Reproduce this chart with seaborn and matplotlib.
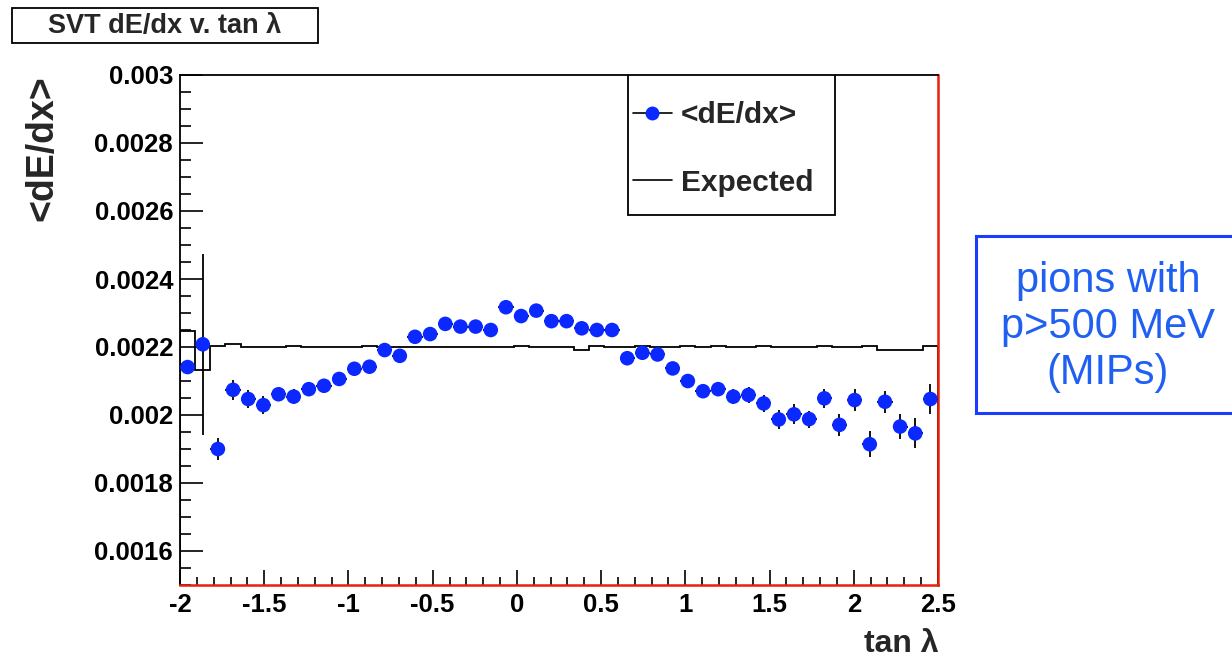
import numpy as np
import pandas as pd
import matplotlib
matplotlib.use("Agg")
import matplotlib.pyplot as plt
from matplotlib.lines import Line2D
from matplotlib.patches import Rectangle
from matplotlib.ticker import MultipleLocator
import seaborn as sns

# ---- data ---------------------------------------------------------------
bin_lo, bin_hi, n_bins = -2.0, 2.5, 50

dedx_mean = [
    0.002141, 0.002208, 0.001900, 0.002074, 0.002047, 0.002029, 0.002061, 0.002054, 0.002076, 0.002086,
    0.002106, 0.002136, 0.002142, 0.002191, 0.002174, 0.002230, 0.002238, 0.002268, 0.002260, 0.002260,
    0.002250, 0.002317, 0.002291, 0.002307, 0.002276, 0.002276, 0.002255, 0.002250, 0.002250, 0.002167,
    0.002183, 0.002178, 0.002137, 0.002100, 0.002070, 0.002076, 0.002054, 0.002059, 0.002034, 0.001987,
    0.002002, 0.001988, 0.002049, 0.001971, 0.002044, 0.001914, 0.002039, 0.001966, 0.001946, 0.002047,
]
dedx_err = [
    0.000018, 0.000267, 0.000032, 0.000029, 0.000026, 0.000026, 0.000020, 0.000023, 0.000020, 0.000018,
    0.000017, 0.000016, 0.000016, 0.000015, 0.000016, 0.000015, 0.000015, 0.000015, 0.000015, 0.000015,
    0.000015, 0.000015, 0.000015, 0.000015, 0.000015, 0.000015, 0.000015, 0.000015, 0.000015, 0.000016,
    0.000016, 0.000017, 0.000018, 0.000019, 0.000020, 0.000021, 0.000022, 0.000023, 0.000025, 0.000029,
    0.000029, 0.000025, 0.000028, 0.000032, 0.000032, 0.000038, 0.000032, 0.000038, 0.000044, 0.000044,
]
expected = [
    0.002247, 0.002132, 0.002203, 0.002209, 0.002199, 0.002199, 0.002199, 0.002203, 0.002199, 0.002199,
    0.002199, 0.002199, 0.002203, 0.002199, 0.002199, 0.002199, 0.002199, 0.002199, 0.002199, 0.002199,
    0.002199, 0.002199, 0.002203, 0.002199, 0.002199, 0.002199, 0.002191, 0.002203, 0.002199, 0.002199,
    0.002203, 0.002199, 0.002199, 0.002203, 0.002199, 0.002203, 0.002199, 0.002199, 0.002203, 0.002199,
    0.002199, 0.002199, 0.002203, 0.002199, 0.002199, 0.002203, 0.002191, 0.002191, 0.002191, 0.002203,
]

x_ticks = [-2, -1.5, -1, -0.5, 0, 0.5, 1, 1.5, 2, 2.5]
x_ticklabels = ["-2", "-1.5", "-1", "-0.5", "0", "0.5", "1", "1.5", "2", "2.5"]
y_ticks = [0.0016, 0.0018, 0.0020, 0.0022, 0.0024, 0.0026, 0.0028, 0.0030]
y_ticklabels = ["0.0016", "0.0018", "0.002", "0.0022", "0.0024", "0.0026", "0.0028", "0.003"]

title_text = "SVT dE/dx v. tan λ"
note_text = "pions with\np>500 MeV\n(MIPs)"

edges = np.linspace(bin_lo, bin_hi, n_bins + 1)
centers = 0.5 * (edges[:-1] + edges[1:])
half_width = 0.5 * (edges[1] - edges[0])
df = pd.DataFrame({"tanl": centers, "dedx": dedx_mean, "err": dedx_err})

# ---- style --------------------------------------------------------------
sns.set_style("white")
plt.rcParams["font.family"] = ["Liberation Sans", "DejaVu Sans"]
plt.rcParams["font.weight"] = "bold"

BLUE = "#0a28ff"
NOTE_BLUE = "#1f5ff2"
BOX_BLUE = "#1a3cff"

W, H = 1232, 658
fig = plt.figure(figsize=(W / 100, H / 100), dpi=100)
ax = fig.add_axes([180 / W, 1 - 585 / H, 758 / W, 510 / H])

# expected histogram as a step line
ax.stairs(expected, edges, color="black", linewidth=1.3, zorder=2)

# measured points: bin-width x bars and statistical y bars
ax.errorbar(df["tanl"], df["dedx"], xerr=half_width, yerr=df["err"],
            fmt="none", ecolor="black", elinewidth=1.3, capsize=0, zorder=3)
sns.scatterplot(data=df, x="tanl", y="dedx", ax=ax, color=BLUE, s=110,
                edgecolor="none", zorder=4, legend=False)

ax.set_xlim(bin_lo, bin_hi)
ax.set_ylim(0.0015, 0.0030)
ax.set_xlabel("")
ax.set_ylabel("")

ax.set_xticks(x_ticks)
ax.set_xticklabels(x_ticklabels)
ax.set_yticks(y_ticks)
ax.set_yticklabels(y_ticklabels)
ax.xaxis.set_minor_locator(MultipleLocator(0.1))
ax.yaxis.set_minor_locator(MultipleLocator(0.00005))
ax.tick_params(axis="both", which="both", direction="in", top=False, right=False,
               bottom=True, left=True, colors="black", labelsize=18.5, width=1.2)
ax.tick_params(axis="x", which="major", length=11, pad=6)
ax.tick_params(axis="x", which="minor", length=5.5)
ax.tick_params(axis="y", which="major", length=16.5, pad=5)
ax.tick_params(axis="y", which="minor", length=8)
for lab in ax.get_xticklabels() + ax.get_yticklabels():
    lab.set_fontweight("bold")

for side in ("left", "top"):
    ax.spines[side].set_color("black")
    ax.spines[side].set_linewidth(1.3)
for side in ("right", "bottom"):
    ax.spines[side].set_color("#e8200a")
    ax.spines[side].set_linewidth(1.8)

# legend: frame drawn as its own box, entries placed inside it
ax.add_patch(Rectangle((448 / 758, 1 - 140 / 510), 207 / 758, 140 / 510,
                       transform=ax.transAxes, facecolor="white",
                       edgecolor="black", linewidth=1.3, zorder=5))
handles = [
    Line2D([], [], color="black", linewidth=1.2, marker="o", markersize=9,
           markerfacecolor=BLUE, markeredgecolor=BLUE),
    Line2D([], [], color="black", linewidth=1.2),
]
leg = ax.legend(handles, ["<dE/dx>", "Expected"], loc="upper left",
                bbox_to_anchor=(453 / 758, 1 - 26 / 510), borderaxespad=0,
                frameon=False, prop={"size": 21.5, "weight": "bold"},
                labelspacing=1.33, handlelength=1.3, handletextpad=0.3,
                borderpad=0)
leg.set_zorder(6)

# axis titles
fig.text(42 / W, 1 - 148 / H, "<dE/dx>", rotation=90, ha="center",
         va="center", fontsize=27, fontweight="bold")
fig.text(901 / W, 1 - 644 / H, "tan λ", ha="center", va="center",
         fontsize=23, fontweight="bold")

# title box
fig.patches.append(Rectangle((12 / W, 1 - 43 / H), 306 / W, 35 / H,
                             transform=fig.transFigure, facecolor="white",
                             edgecolor="black", linewidth=1.3))
fig.text(165 / W, 1 - 26 / H, title_text, ha="center", va="center",
         fontsize=19.5, fontweight="bold")

# side note
fig.patches.append(Rectangle((976 / W, 1 - 413 / H), 270 / W, 177 / H,
                             transform=fig.transFigure, facecolor="white",
                             edgecolor=BOX_BLUE, linewidth=2.2))
fig.text(1108 / W, 1 - 327 / H, note_text, ha="center", va="center",
         fontsize=30, fontweight="normal", color=NOTE_BLUE, linespacing=1.2)

fig.savefig("out.png", dpi=100)
